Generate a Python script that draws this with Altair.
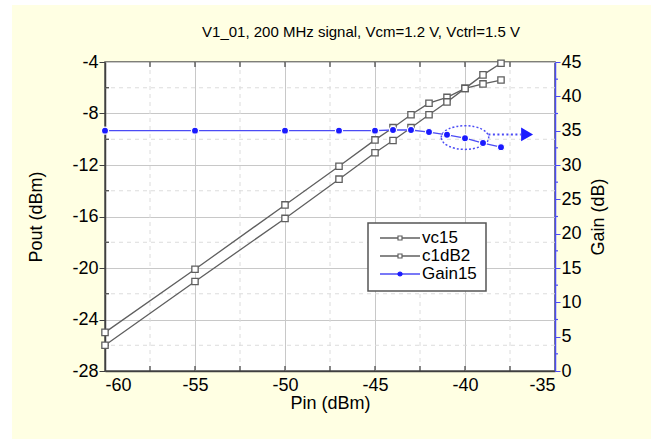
import altair as alt
import pandas as pd

title_text = "V1_01, 200 MHz signal, Vcm=1.2 V, Vctrl=1.5 V"

pin = [-60, -55, -50, -47, -45, -44, -43, -42, -41, -40, -39, -38]
vc15 = [-25.0, -20.1, -15.1, -12.1, -10.05, -9.1, -8.1, -7.2, -6.75, -6.05, -5.7, -5.4]
c1dB2 = [-26.0, -21.05, -16.15, -13.1, -11.05, -10.1, -9.1, -8.1, -7.1, -6.05, -5.0, -4.1]
gain15 = [35, 35, 35, 35, 35, 35.1, 35.1, 34.8, 34.4, 33.9, 33.2, 32.6]
series_names = ["vc15", "c1dB2", "Gain15"]

x_ticks = [-60, -55, -50, -45, -40, -35]
x_minor = [-57.5, -52.5, -47.5, -42.5, -37.5]
pout_ticks = [-28, -24, -20, -16, -12, -8, -4]
pout_minor = [-26, -22, -18, -14, -10, -6]
gain_ticks = [0, 5, 10, 15, 20, 25, 30, 35, 40, 45]
gain_minor = [2.5, 7.5, 12.5, 17.5, 22.5, 27.5, 32.5, 37.5, 42.5]

ellipse_pin = [-40.0]
ellipse_gain = [34.0]
arrow_pin = [-38.7, -36.9]
arrow_gain = [34.45, 34.45]
head_pin = [-36.55]
head_gain = [34.45]

FONT = "Liberation Sans"
GRAY = "#5f5f5f"
BLUE = "#1a1aff"
LBLUE = "#4b4bf5"
W, H = 450, 309

xs = alt.Scale(domain=[-60, -35], nice=False, zero=False)
ys = alt.Scale(domain=[-28, -4], nice=False, zero=False)
gs = alt.Scale(domain=[0, 45], nice=False, zero=False)

x_axis = alt.Axis(values=x_ticks, title="Pin (dBm)", grid=True, gridColor="#c8c8c8",
                  ticks=False, domainColor="#404040", domainWidth=1.5,
                  labelFontSize=18, labelPadding=5, titleFontSize=18, titlePadding=0,
                  labelColor="black", titleColor="black", labelFont=FONT, titleFont=FONT,
                  titleFontWeight="normal", labelExpr="datum.value + ''")
y_axis = alt.Axis(values=pout_ticks, title="Pout (dBm)", grid=True, gridColor="#c8c8c8",
                  tickSize=6, tickColor="#404040", domainColor="#404040", domainWidth=1.5,
                  labelFontSize=18, labelPadding=1, titleFontSize=18, titlePadding=26,
                  labelColor="black", titleColor="black", labelFont=FONT, titleFont=FONT,
                  titleFontWeight="normal", labelExpr="datum.value + ''")
g_axis = alt.Axis(values=gain_ticks, title="Gain (dB)", orient="right", grid=False,
                  tickSize=5, tickColor=LBLUE, domainColor=LBLUE, domainWidth=1.5,
                  labelFontSize=18, labelPadding=1, titleFontSize=18, titlePadding=26,
                  titleAngle=270,
                  labelColor="black", titleColor="black", labelFont=FONT, titleFont=FONT,
                  titleFontWeight="normal", labelExpr="datum.value + ''")


def X(field="pin"):
    return alt.X(f"{field}:Q", scale=xs, axis=x_axis)


def YP(field):
    return alt.Y(f"{field}:Q", scale=ys, axis=y_axis)


def YG(field):
    return alt.Y(f"{field}:Q", scale=gs, axis=g_axis)


one = pd.DataFrame({"k": [0]})
title_df = pd.DataFrame({"t": [title_text]})

# white margin strips outside the yellow panel
strip_left = alt.Chart(one).mark_rect(color="white").encode(
    x=alt.value(-105), x2=alt.value(-93), y=alt.value(-62), y2=alt.value(377))
strip_top = alt.Chart(one).mark_rect(color="white").encode(
    x=alt.value(-105), x2=alt.value(546), y=alt.value(-62), y2=alt.value(-57))
title_mark = alt.Chart(title_df).mark_text(fontSize=15, font=FONT, color="black",
                                           align="center", baseline="middle").encode(
    x=alt.value(256), y=alt.value(-30), text="t:N")

# minor grid + inner ticks on x
xminor_df = pd.DataFrame({"pin": x_minor})
xtick_df = pd.DataFrame({"pin": x_minor + x_ticks[1:-1]})
xgrid_minor = alt.Chart(xminor_df).mark_rule(color="#dcdcdc", strokeDash=[4, 4], strokeWidth=1).encode(x=X())
xtick_bottom = alt.Chart(xtick_df).mark_rule(color="#404040", strokeWidth=1.2).encode(
    x=X(), y=alt.value(H - 5), y2=alt.value(H))
xtick_top = alt.Chart(xtick_df).mark_rule(color="#404040", strokeWidth=1.2).encode(
    x=X(), y=alt.value(0), y2=alt.value(5))

# left side layers
yminor_df = pd.DataFrame({"pout": pout_minor})
ygrid_minor = alt.Chart(yminor_df).mark_rule(color="#dcdcdc", strokeDash=[4, 4], strokeWidth=1).encode(y=YP("pout"))
ytick_minor = alt.Chart(yminor_df).mark_rule(color="#404040", strokeWidth=1.2).encode(
    y=YP("pout"), x=alt.value(0), x2=alt.value(4))

pout_df = pd.concat([
    pd.DataFrame({"pin": pin, "pout": vc15, "series": "vc15"}),
    pd.DataFrame({"pin": pin, "pout": c1dB2, "series": "c1dB2"}),
])
pout_lines = alt.Chart(pout_df).mark_line(color=GRAY, strokeWidth=1.3).encode(
    x=X(), y=YP("pout"), detail="series:N")
pout_points = alt.Chart(pout_df).mark_point(shape="square", size=40, filled=False,
                                            color=GRAY, fill="white", fillOpacity=1,
                                            strokeWidth=1.3, opacity=1).encode(
    x=X(), y=YP("pout"), detail="series:N")

left = alt.layer(ygrid_minor, ytick_minor, pout_lines, pout_points)

# right side layers
gminor_df = pd.DataFrame({"gain": gain_minor})
gtick_minor = alt.Chart(gminor_df).mark_rule(color=LBLUE, strokeWidth=1.2).encode(
    y=YG("gain"), x=alt.value(W), x2=alt.value(W + 3))

gain_df = pd.DataFrame({"pin": pin, "gain": gain15})
gain_line = alt.Chart(gain_df).mark_line(color=LBLUE, strokeWidth=1.3).encode(x=X(), y=YG("gain"))
gain_points = alt.Chart(gain_df).mark_point(shape="circle", size=50, filled=True, color=BLUE,
                                            opacity=1, stroke="white", strokeWidth=1.2).encode(
    x=X(), y=YG("gain"))

ell_df = pd.DataFrame({"pin": ellipse_pin, "gain": ellipse_gain})
ellipse = alt.Chart(ell_df).mark_point(
    shape="M-1,0A1,0.5,0,1,1,1,0A1,0.5,0,1,1,-1,0Z", size=2250, filled=False,
    color=LBLUE, strokeWidth=1.5, strokeDash=[2, 2], opacity=1).encode(x=X(), y=YG("gain"))
arrow_df = pd.DataFrame({"pin": arrow_pin, "gain": arrow_gain})
arrow_line = alt.Chart(arrow_df).mark_line(color=LBLUE, strokeWidth=2, strokeDash=[2, 2.5]).encode(
    x=X(), y=YG("gain"))
head_df = pd.DataFrame({"pin": head_pin, "gain": head_gain})
arrow_head = alt.Chart(head_df).mark_point(shape="triangle-right", size=190, filled=True,
                                           color=BLUE, opacity=1).encode(x=X(), y=YG("gain"))

right = alt.layer(gtick_minor, ellipse, arrow_line, gain_line, gain_points, arrow_head)

# legend
leg_df = pd.DataFrame({"label": series_names})
ly = alt.Y("label:N", scale=alt.Scale(type="point", domain=series_names, range=[176, 212], padding=0),
           axis=None)
leg_colors = alt.Scale(domain=series_names, range=[GRAY, GRAY, LBLUE])
leg_box = alt.Chart(one).mark_rect(fill="white", stroke="#555555", strokeWidth=1.5).encode(
    x=alt.value(263), x2=alt.value(381), y=alt.value(161), y2=alt.value(229))
leg_rule = alt.Chart(leg_df).mark_rule(strokeWidth=1.5).encode(
    x=alt.value(275), x2=alt.value(315), y=ly,
    color=alt.Color("label:N", scale=leg_colors, legend=None))
leg_pts = alt.Chart(leg_df).mark_point(opacity=1, strokeWidth=1.2).encode(
    x=alt.value(295), y=ly,
    shape=alt.Shape("label:N", scale=alt.Scale(domain=series_names, range=["square", "square", "circle"]),
                    legend=None),
    size=alt.Size("label:N", scale=alt.Scale(domain=series_names, range=[16, 16, 40]), legend=None),
    stroke=alt.Stroke("label:N", scale=alt.Scale(domain=series_names, range=[GRAY, GRAY, BLUE]), legend=None),
    fill=alt.Fill("label:N", scale=alt.Scale(domain=series_names, range=["white", "white", BLUE]), legend=None))
leg_txt = alt.Chart(leg_df).mark_text(align="left", baseline="middle", fontSize=17, font=FONT,
                                      color="black").encode(
    x=alt.value(317), y=ly, text="label:N")
legend = alt.layer(leg_box, leg_rule, leg_pts, leg_txt)

chart = alt.layer(
    strip_left, strip_top, title_mark, xgrid_minor, left, right, xtick_bottom, xtick_top, legend
).resolve_scale(y="independent", color="independent", shape="independent",
                size="independent", fill="independent", stroke="independent").properties(
    width=W, height=H,
    autosize=alt.AutoSizeParams(type="none"),
    padding={"left": 105, "top": 62, "right": 96, "bottom": 68},
    background="#ffffe3",
).configure_view(fill="white", stroke="#555555", strokeWidth=1.5)

chart.save("out.html", embed_options={"renderer": "svg", "actions": False})
